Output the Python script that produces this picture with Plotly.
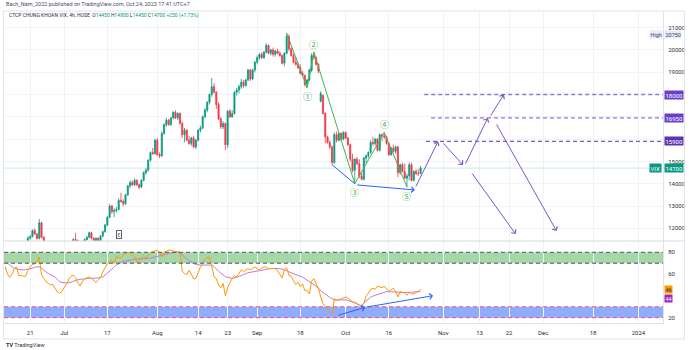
import plotly.graph_objects as go

# ---------------- data ----------------
opens = [10950, 11050, 11000, 10900, 10950, 11150, 11050, 10950, 11000, 11200,
         11300, 11550, 11620, 11900, 11750, 11550, 12250, 11600, 11350, 11200,
         11150, 11000, 10950, 10900, 10850, 10950, 11100, 11250, 11350, 11250,
         11300, 11500, 11450, 11300, 11350, 11300, 11500, 11600, 11800, 11550,
         11450, 11550, 11450, 11650, 11850, 12150, 12500, 13000, 12750, 12800,
         12850, 13250, 13200, 13100, 13500, 13900, 14050, 13950, 14150, 13950,
         13850, 14150, 14500, 14600, 15050, 15400, 15350, 15950, 15300, 15250,
         16250, 16650, 16850, 16650, 16950, 17200, 16950, 17150, 16700, 16200,
         16400, 15950, 15800, 16050, 15650, 15950, 16400, 16500, 17000, 17300,
         17650, 18000, 18350, 18100, 17550, 16900, 16550, 16700, 15750, 17250,
         17000, 17150, 18100, 18200, 18350, 18550, 18400, 18650, 19100, 18700,
         19100, 19450, 19650, 19800, 19650, 19900, 20200, 19850, 20000, 19800,
         19950, 19850, 19750, 19400, 19850, 20600, 20050, 19750, 19450, 19350,
         19200, 18950, 18850, 18450, 18650, 19100, 19750, 19650, 19350, 17700,
         17950, 17150, 16100, 15850, 15650, 14950, 16200, 15950, 16250, 16000,
         16300, 16050, 15750, 15100, 14600, 15100, 14900, 14350, 14200, 15150,
         15250, 15400, 15850, 15800, 16000, 15500, 16200, 16150, 16100, 15800,
         15300, 15600, 15450, 15650, 14500, 14850, 14550, 14250, 14350, 14850,
         14150, 14550, 14450, 14450]
highs = [11100, 11150, 11050, 11000, 11200, 11250, 11100, 11050, 11250, 11350,
         11650, 11700, 11950, 12000, 11800, 12420, 12300, 11650, 11400, 11300,
         11200, 11100, 11050, 11000, 11000, 11150, 11300, 11400, 11380, 11350,
         11550, 11800, 11500, 11400, 11450, 11550, 11650, 11850, 11850, 11600,
         11600, 11600, 11700, 11900, 12200, 12550, 13100, 13050, 12900, 12950,
         13350, 13600, 13300, 13550, 13950, 14150, 14150, 14250, 14200, 14000,
         14200, 14550, 14700, 15100, 15450, 15600, 16000, 16050, 15400, 16350,
         16700, 16950, 16900, 17000, 17250, 17300, 17200, 17200, 16800, 16500,
         16450, 16150, 16100, 16150, 16000, 16450, 16600, 17050, 17400, 17700,
         18050, 18750, 18500, 18150, 17650, 17000, 16800, 16750, 17300, 17350,
         17300, 18150, 18300, 18450, 18700, 18650, 18700, 19150, 19150, 19150,
         19500, 19750, 19850, 19900, 19950, 20300, 20250, 20050, 20100, 20000,
         20050, 19950, 19800, 19900, 20750, 20700, 20100, 19850, 19650, 19450,
         19350, 19050, 18900, 18700, 19150, 19850, 19900, 19700, 19400, 18150,
         18000, 17200, 16150, 15950, 15700, 16300, 16350, 16300, 16300, 16350,
         16350, 16100, 15800, 15350, 15150, 15200, 15100, 14500, 15200, 15300,
         15450, 15950, 16100, 16050, 16050, 16250, 16250, 16300, 16150, 15850,
         15650, 15750, 15700, 15700, 14900, 14950, 14900, 14450, 14950, 14950,
         14600, 14650, 14650, 14800]
lows = [10900, 10950, 10850, 10850, 10950, 11000, 10900, 10900, 10950, 11150,
        11280, 11500, 11600, 11700, 11500, 11500, 11550, 11300, 11150, 11100,
        10950, 10900, 10850, 10800, 10800, 10900, 11050, 11200, 11200, 11150,
        11250, 11400, 11250, 11200, 11250, 11250, 11450, 11550, 11500, 11400,
        11400, 11380, 11400, 11600, 11800, 12100, 12450, 12650, 12500, 12700,
        12800, 13150, 13000, 13050, 13450, 13800, 13900, 13900, 13900, 13750,
        13800, 14100, 14400, 14550, 15000, 15300, 15300, 15250, 15150, 15200,
        16200, 16550, 16600, 16600, 16900, 16900, 16850, 16650, 16050, 15850,
        15900, 15750, 15700, 15600, 15550, 15900, 16300, 16450, 16950, 17200,
        17550, 17900, 18050, 17350, 16850, 16450, 16450, 15500, 15600, 16950,
        16950, 17100, 17950, 18050, 18250, 18300, 18350, 18600, 18600, 18650,
        19000, 19350, 19550, 19600, 19600, 19850, 19800, 19750, 19700, 19700,
        19800, 19700, 19350, 19250, 19800, 19950, 19700, 19400, 19300, 19150,
        18900, 18800, 18350, 18300, 18600, 19000, 19550, 19300, 18950, 17650,
        17100, 15800, 15800, 15550, 14850, 14900, 15850, 15900, 15900, 15950,
        16000, 15700, 15000, 14500, 14000, 14850, 14250, 14150, 14150, 14900,
        15150, 15350, 15700, 15700, 15450, 15450, 15900, 16000, 15750, 15250,
        15250, 15400, 15350, 14300, 14400, 14500, 14200, 13850, 14150, 14100,
        14100, 14400, 14350, 14450]
closes = [11050, 11000, 10900, 10950, 11150, 11050, 10950, 11000, 11200, 11300,
          11550, 11620, 11900, 11750, 11550, 12250, 11600, 11350, 11200, 11150,
          11000, 10950, 10900, 10850, 10950, 11100, 11250, 11350, 11250, 11300,
          11500, 11450, 11300, 11350, 11300, 11500, 11600, 11800, 11550, 11450,
          11550, 11450, 11650, 11850, 12150, 12500, 13000, 12750, 12800, 12850,
          13250, 13200, 13100, 13500, 13900, 14050, 13950, 14150, 13950, 13850,
          14150, 14500, 14600, 15050, 15400, 15350, 15950, 15300, 15250, 16250,
          16650, 16850, 16650, 16950, 17200, 16950, 17150, 16700, 16200, 16400,
          15950, 15800, 16050, 15650, 15950, 16400, 16500, 17000, 17300, 17650,
          18000, 18350, 18100, 17550, 16900, 16550, 16700, 15750, 17250, 17000,
          17150, 18100, 18200, 18350, 18550, 18400, 18650, 19100, 18700, 19100,
          19450, 19650, 19800, 19650, 19900, 20200, 19850, 20000, 19800, 19950,
          19850, 19750, 19400, 19850, 20600, 20050, 19750, 19450, 19350, 19200,
          18950, 18850, 18450, 18650, 19100, 19750, 19650, 19350, 19050, 18050,
          17150, 16100, 15850, 15650, 14950, 16200, 15950, 16250, 16000, 16300,
          16050, 15750, 15100, 14600, 15100, 14900, 14350, 14200, 15150, 15250,
          15400, 15850, 15800, 16000, 15500, 16200, 16150, 16100, 15800, 15300,
          15600, 15450, 15650, 14500, 14850, 14550, 14250, 14350, 14850, 14150,
          14550, 14450, 14450, 14700]

rsi = [66.8, 60, 57, 60, 65, 66.5, 58.5, 59, 58, 58,
       63.5, 67, 68.5, 69.5, 72, 75.5, 59.2, 55.5, 53, 51.5,
       50.2, 50.5, 47, 43.5, 42.4, 44, 47.5, 50.6, 55.5, 58,
       59, 57, 52, 49, 53.5, 55.5, 56.5, 57.5, 56, 54,
       52.5, 54.5, 57, 62, 66, 69.5, 71.4, 72.5, 70, 76,
       75, 74.5, 77, 79.5, 79.5, 80, 78, 76, 71, 72,
       75, 77, 75, 77.5, 79.5, 80.6, 81.5, 82, 79.5, 76,
       80, 81, 82, 82, 81, 80.6, 80.8, 80, 63, 60.5,
       59.5, 63.5, 60, 55.5, 56, 61.5, 66.5, 70, 73.5, 75.5,
       75, 67.5, 57.6, 56, 50, 47.5, 51.5, 40, 47.5, 52,
       56, 58.5, 57.5, 60.7, 64, 62.3, 64, 65, 64, 65.5,
       66.5, 65, 64, 65.5, 66.5, 66.5, 65, 65, 65.5, 65.3,
       63, 60, 56.5, 64, 66, 59, 58, 54, 50.5, 52.5,
       48.5, 51, 45, 45, 42, 53.5, 56, 51, 47.2, 39,
       33, 30, 28, 25.8, 23.5, 37.5, 36, 36.5, 37.5, 38.5,
       39, 38, 36, 34.5, 34, 33, 30.5, 30.5, 33, 40,
       42.5, 46, 47, 46, 49, 48, 47.5, 49, 46.5, 44,
       45.5, 47, 44, 39, 44, 43.5, 42.5, 40.5, 43.5, 41.5,
       42, 43, 44, 46]
rsi_ma = [72, 70, 68, 66.5, 65.5, 64.7, 64.3, 64, 63.8, 64,
          64.4, 64.8, 65.5, 66.3, 66.8, 66.8, 65.5, 63.5, 62, 60.5,
          59.3, 58.4, 57.3, 55, 53, 52.3, 51.7, 51.8, 52.2, 52.5,
          53.5, 54.4, 54.8, 55.2, 55.5, 55.9, 56.1, 56.1, 56.1, 56.1,
          56.1, 56.5, 57, 57.6, 59, 60.7, 62.3, 64.4, 66.5, 68.4,
          69.5, 70.7, 71.5, 72, 72.6, 73, 73.4, 73.7, 73.9, 73.9,
          73.9, 74, 74.2, 74.4, 74.7, 75.3, 75.8, 76.4, 77, 77.3,
          77.9, 78.4, 78.9, 79.4, 79.9, 80.4, 80.3, 79.3, 77.8, 75.5,
          74, 72.4, 70.8, 69.7, 69, 68.4, 68.3, 68.3, 68.3, 68.3,
          68.3, 68.3, 66.8, 64.5, 62.6, 61, 59.4, 57.6, 57.1, 56.6,
          56.1, 56.5, 57, 57.6, 58.6, 59.7, 60.7, 61.2, 61.6, 62,
          62.7, 63.1, 63.5, 63.9, 64.3, 64.7, 64.9, 65.1, 65.2, 65.3,
          65.1, 64.9, 64.7, 64.2, 63.2, 62.1, 61.1, 60.2, 59.4, 58.6,
          57.9, 57.2, 55.8, 54.3, 52.9, 51.8, 50.7, 49, 46.9, 44.8,
          43.2, 41.6, 40, 38.6, 37.3, 36.2, 36.2, 36.3, 36.4, 36.5,
          36.4, 35.8, 35.2, 34.6, 33.7, 32.8, 31.8, 31.2, 33.5, 35.5,
          37.2, 38.8, 39.8, 40.6, 41.2, 42, 43, 43.8, 43.9, 43.9,
          43.9, 43.9, 43.9, 43.6, 43.3, 43.1, 43, 42.9, 43, 43.3,
          43.5, 43.7, 43.9, 44]

# time axis labels (bar index -> label)
date_ticks = [11, 26, 45, 67, 85, 98, 111, 130, 150, 169, 193, 209, 222, 237, 259, 279]
date_labels = ["21", "Jul", "17", "Aug", "14", "23", "Sep", "18", "Oct", "16",
               "Nov", "13", "22", "Dec", "18", "2024"]

price_ticks = [12000, 13000, 14000, 15000, 16000, 17000, 18000, 19000, 20000, 21000]
price_labels = ["12000", "13000", "14000", "15000", "", "", "", "19000", "20000", "21000"]
rsi_ticks = [20, 40, 60, 80]
rsi_labels = ["20", "", "60", "80"]

# Elliott wave pivots: bar index and whether the pivot is a high
wave_bars = [124, 133, 136, 154, 167, 177]
wave_is_high = [True, False, True, False, True, False]
wave_names = ["", "①", "②", "③", "④", "⑤"]

# horizontal target levels: (start bar, price)
level_start = [184.6, 187.6, 185.4]
level_price = [18000, 16950, 15900]
level_color = ["#9575CD", "#9575CD", "#7E57C2"]

# projected path arrows: tail bar, tail price, head bar, head price
proj_tail_x = [180.6, 192.5, 202.5, 213.5, 205.2, 216.1]
proj_tail_y = [13807, 15870, 14838, 16991, 14525, 16722]
proj_head_x = [190.7, 201.7, 212.6, 219.7, 224.9, 242.9]
proj_head_y = [15900, 14838, 16950, 18000, 11740, 11879]

# divergence arrows on the oscillator
div_tail_x = [146.1, 158.6]
div_tail_y = [21.8, 29.5]
div_head_x = [158.6, 188.5]
div_head_y = [29.5, 40.2]

# ---------------- layout geometry ----------------
X_RANGE = [-0.53, 289.8]
PRICE_RANGE = [11431, 21744]
RSI_RANGE = [15.1, 90.4]
SPLIT = 0.2628

UP = "#089981"
DOWN = "#F23645"
GRID = "#F0F3FA"
FONT = "Roboto, Liberation Sans, Arial"
idx = list(range(len(closes)))

fig = go.Figure()

fig.add_trace(go.Candlestick(
    x=idx, open=opens, high=highs, low=lows, close=closes,
    increasing=dict(line=dict(color=UP, width=0.8), fillcolor=UP),
    decreasing=dict(line=dict(color=DOWN, width=0.8), fillcolor=DOWN),
    whiskerwidth=0, xaxis="x", yaxis="y", hoverinfo="skip"))

# wave zigzag through pivot highs/lows
wave_y = [highs[b] if h else lows[b] for b, h in zip(wave_bars, wave_is_high)]
fig.add_trace(go.Scatter(x=wave_bars, y=wave_y, mode="lines",
                         line=dict(color="#4CAF50", width=1), xaxis="x", yaxis="y",
                         hoverinfo="skip"))

# blue link between the two lows
fig.add_trace(go.Scatter(x=[144, 154], y=[lows[144], lows[154]], mode="lines",
                         line=dict(color="#2962FF", width=1), xaxis="x", yaxis="y",
                         hoverinfo="skip"))

# oscillator
fig.add_trace(go.Scatter(x=idx, y=rsi_ma, mode="lines",
                         line=dict(color="#C27BD6", width=1), xaxis="x2", yaxis="y2",
                         hoverinfo="skip"))
fig.add_trace(go.Scatter(x=idx, y=rsi, mode="lines",
                         line=dict(color="#FF9800", width=1), xaxis="x2", yaxis="y2",
                         hoverinfo="skip"))

shapes = []
# oscillator bands
shapes.append(dict(type="rect", xref="x2 domain", yref="y2", x0=0, x1=1, y0=70, y1=80,
                   fillcolor="rgba(76,175,80,0.5)", line=dict(width=0), layer="below"))
shapes.append(dict(type="rect", xref="x2 domain", yref="y2", x0=0, x1=1, y0=20, y1=30,
                   fillcolor="rgba(41,98,255,0.52)", line=dict(width=0), layer="below"))
for lv, col in [(80, "#50535E"), (70, "#50535E"), (30, "#F7525F"), (20, "#F7525F")]:
    shapes.append(dict(type="line", xref="x2 domain", yref="y2", x0=0, x1=1, y0=lv, y1=lv,
                       line=dict(color=col, width=1, dash="4px,3px")))

# last price line
shapes.append(dict(type="line", xref="x domain", yref="y", x0=0, x1=1,
                   y0=closes[-1], y1=closes[-1],
                   line=dict(color="rgba(8,153,129,0.22)", width=1)))

# target levels
for s, p, c in zip(level_start, level_price, level_color):
    shapes.append(dict(type="line", xref="x", yref="y", x0=s, x1=X_RANGE[1], y0=p, y1=p,
                       line=dict(color=c, width=1.3, dash="4px,3px")))

# pane separator and outer frame
shapes.append(dict(type="line", xref="paper", yref="paper", x0=0, x1=1.0332,
                   y0=SPLIT, y1=SPLIT, line=dict(color="#D6D9E0", width=1)))
shapes.append(dict(type="rect", xref="paper", yref="paper", x0=-0.001, x1=1.0325,
                   y0=-0.0513, y1=1.0, line=dict(color="#E0E3EB", width=1)))

annotations = []
# projected path arrows
for tx, ty, hx, hy in zip(proj_tail_x, proj_tail_y, proj_head_x, proj_head_y):
    annotations.append(dict(x=hx, y=hy, ax=tx, ay=ty, xref="x", yref="y", axref="x", ayref="y",
                            text="", showarrow=True, arrowhead=4, arrowsize=1.1,
                            arrowwidth=1, arrowcolor="#7E57C2", standoff=0))
# blue arrow along the lows
annotations.append(dict(x=180.5, y=13720, ax=154.4, ay=13950, xref="x", yref="y",
                        axref="x", ayref="y", text="", showarrow=True, arrowhead=4,
                        arrowsize=1.1, arrowwidth=1, arrowcolor="#2962FF", standoff=0))
for tx, ty, hx, hy in zip(div_tail_x, div_tail_y, div_head_x, div_head_y):
    annotations.append(dict(x=hx, y=hy, ax=tx, ay=ty, xref="x2", yref="y2", axref="x2",
                            ayref="y2", text="", showarrow=True, arrowhead=4, arrowsize=1.1,
                            arrowwidth=1, arrowcolor="#2962FF", standoff=0))

# wave numbers
for b, h, name, y in zip(wave_bars, wave_is_high, wave_names, wave_y):
    if not name:
        continue
    annotations.append(dict(x=b, y=y, xref="x", yref="y", text=name, showarrow=False,
                            yshift=8 if h else -9,
                            font=dict(family="Noto Sans CJK SC", size=9, color="#4CAF50")))


def badge(text, y, yref, bg, fg="#FFFFFF", side="left", shift=1, size=6, yshift=0):
    annotations.append(dict(x=1, y=y, xref="paper", yref=yref, text=text, showarrow=False,
                            xanchor=side, xshift=shift if side == "left" else -shift,
                            yshift=yshift, bgcolor=bg, borderpad=0.5,
                            font=dict(family=FONT, size=size, color=fg)))


for p, c in zip(level_price, ["#6A3FC8", "#6A3FC8", "#5E35B1"]):
    badge(f"{p}", p, "y", c)
badge(f"{closes[-1]}", closes[-1], "y", UP)
badge("VIX", closes[-1], "y", UP, side="right")
hi = max(highs)
badge(f"{hi}", hi, "y", "#E3ECFB", fg="#42464F", size=5.5, yshift=-1)
badge("High", hi, "y", "#E3ECFB", fg="#42464F", side="right", shift=0, size=5.5, yshift=-1)
badge(f"{rsi[-1]:.0f}", rsi[-1], "y2", "#FF9800", fg="#2A2E39", size=5.5, yshift=-0.5)
badge(f"{rsi_ma[-1]:.0f}", rsi_ma[-1], "y2", "#9C27B0", size=5.5, yshift=-6.5)

# event marker
annotations.append(dict(x=50, y=11720, xref="x", yref="y", text="E", showarrow=False,
                        bordercolor="#5D606B", borderwidth=1, borderpad=0.5, bgcolor="#FFFFFF",
                        font=dict(family=FONT, size=5, color="#5D606B")))

# header and legend
annotations.append(dict(x=0, y=1.0224, xref="paper", yref="paper", xanchor="left",
                        yanchor="middle", showarrow=False,
                        text="Bach_Nam_2022 published on TradingView.com, Oct 24, 2023 17:41 UTC+7",
                        font=dict(family=FONT, size=5.5, color="#4A4E59")))
legend_text = ("CTCP CHUNG KHOAN VIX, 4h, HOSE  "
               f"O<span style='color:{UP}'>{opens[-1]}</span> "
               f"H<span style='color:{UP}'>{highs[-1]}</span> "
               f"L<span style='color:{UP}'>{lows[-1]}</span> "
               f"C<span style='color:{UP}'>{closes[-1]}</span> "
               f"<span style='color:{UP}'>+{closes[-1]-closes[-2]} "
               f"(+{(closes[-1]-closes[-2])/closes[-2]*100:.2f}%)</span>")
annotations.append(dict(x=0.0045, y=0.984, xref="paper", yref="paper", xanchor="left",
                        yanchor="middle", showarrow=False, text=legend_text,
                        font=dict(family=FONT, size=5, color="#2A2E39")))
annotations.append(dict(x=0, y=-0.0705, xref="paper", yref="paper", xanchor="left",
                        yanchor="middle", showarrow=False,
                        text="<b>TV</b> TradingView",
                        font=dict(family=FONT, size=5.5, color="#2A2E39")))

fig.update_layout(
    width=690, height=350,
    margin=dict(l=4, r=24, t=11, b=27),
    paper_bgcolor="#FFFFFF", plot_bgcolor="#FFFFFF",
    showlegend=False,
    font=dict(family=FONT, size=6, color="#2A2E39"),
    xaxis=dict(domain=[0, 1], anchor="y", range=X_RANGE, showticklabels=False,
               tickvals=date_ticks, showgrid=True, gridcolor=GRID, gridwidth=1,
               zeroline=False, rangeslider=dict(visible=False), showline=False),
    yaxis=dict(domain=[SPLIT, 1], anchor="x", side="right", range=PRICE_RANGE,
               tickvals=price_ticks, ticktext=price_labels, showgrid=True,
               gridcolor=GRID, zeroline=False, showline=True, linecolor="#E0E3EB",
               ticks="", ticklabelstandoff=3, tickfont=dict(size=6, color="#2A2E39")),
    xaxis2=dict(domain=[0, 1], anchor="y2", matches="x", range=X_RANGE,
                tickvals=date_ticks, ticktext=date_labels, showgrid=True,
                gridcolor=GRID, zeroline=False, showline=True, linecolor="#E0E3EB",
                ticks="", ticklabelstandoff=4, tickfont=dict(size=6, color="#2A2E39")),
    yaxis2=dict(domain=[0, SPLIT], anchor="x2", side="right", range=RSI_RANGE,
                tickvals=rsi_ticks, ticktext=rsi_labels, showgrid=False, zeroline=False,
                showline=True, linecolor="#E0E3EB", ticks="", ticklabelstandoff=3,
                tickfont=dict(size=6, color="#2A2E39")),
    shapes=shapes,
    annotations=annotations,
)

fig.write_html("out.html")
